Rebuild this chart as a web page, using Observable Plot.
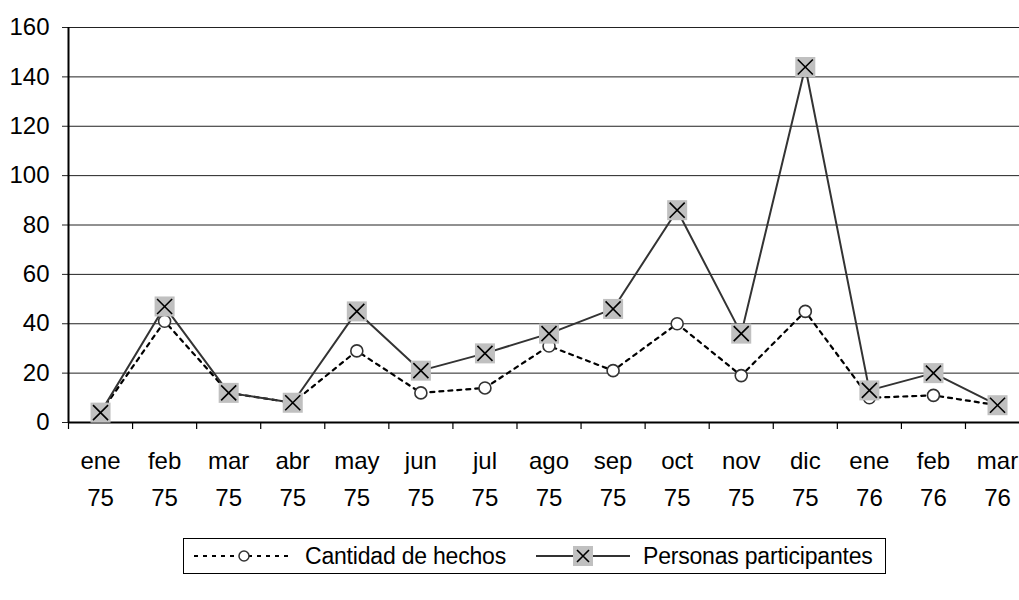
<!DOCTYPE html>
<html>
<head>
<meta charset="utf-8">
<script src="https://cdn.jsdelivr.net/npm/d3@7"></script>
<script src="https://cdn.jsdelivr.net/npm/@observablehq/plot@0.6"></script>
<style>
  html, body { margin: 0; padding: 0; background: white; overflow: hidden; }
  #wrap { position: relative; width: 1019px; height: 600px; font-family: "Liberation Sans", Arial, sans-serif; }
  #legend { position: absolute; left: 183px; top: 538px; width: 703px; height: 36px; box-sizing: border-box;
            border: 1px solid black; background: white; font-size: 23px; letter-spacing: -0.2px; color: black; }
  #legend .item { position: absolute; top: 0; height: 34px; line-height: 34px; white-space: nowrap; }
  #legend svg { position: absolute; top: 0; }
</style>
</head>
<body>
<div id="wrap">
  <div id="chart"></div>
  <div id="legend">
    <svg width="110" height="34" style="left:8px">
      <line x1="2" x2="100" y1="17" y2="17" stroke="black" stroke-width="2" stroke-dasharray="4,5"></line>
      <circle cx="52" cy="17" r="5" fill="white" stroke="#333" stroke-width="1.5"></circle>
    </svg>
    <span class="item" style="left:121px">Cantidad de hechos</span>
    <svg width="100" height="34" style="left:350px">
      <line x1="2" x2="96" y1="17" y2="17" stroke="#333" stroke-width="2"></line>
      <rect x="39" y="7" width="20" height="20" fill="#c0c0c0"></rect>
      <path d="M43,11L55,23M43,23L55,11" stroke="black" stroke-width="1.6"></path>
    </svg>
    <span class="item" style="left:459px">Personas participantes</span>
  </div>
</div>
<script>
const months = ["ene","feb","mar","abr","may","jun","jul","ago","sep","oct","nov","dic","ene","feb","mar"];
const years  = ["75","75","75","75","75","75","75","75","75","75","75","75","76","76","76"];
const cantidad = [4, 41, 12, 8, 29, 12, 14, 31, 21, 40, 19, 45, 10, 11, 7];
const personas = [4, 47, 12, 8, 45, 21, 28, 36, 46, 86, 36, 144, 13, 20, 7];
const yTicks = [0, 20, 40, 60, 80, 100, 120, 140, 160];

const rows = months.map((m, i) => ({i, month: m, year: years[i], cantidad: cantidad[i], personas: personas[i]}));
const n = months.length;
const boundaries = d3.range(n + 1).map(k => k - 0.5);

const chart = Plot.plot({
  width: 1019,
  height: 520,
  marginTop: 27,
  marginBottom: 98,
  marginLeft: 68,
  marginRight: 0,
  style: {fontFamily: "'Liberation Sans', Arial, sans-serif", fontSize: "24px", color: "black", background: "white", overflow: "hidden"},
  x: {type: "linear", domain: [-0.5, n - 0.5], range: [68, 68 + 64.07 * n]},
  y: {domain: [0, 160], range: [422, 27]},
  marks: [
    Plot.ruleY(yTicks.slice(1), {x1: -0.5, x2: n - 0.5, stroke: "#222", strokeWidth: 1}),
    Plot.axisY({ticks: yTicks, tickSize: 6, tickPadding: 13, label: null, fontSize: 24, stroke: "#222"}),
    Plot.axisX({ticks: boundaries, tickSize: 7, tickFormat: () => "", label: null, strokeWidth: 1.2}),
    Plot.axisX({ticks: d3.range(n), tickSize: 0, tickPadding: 20, label: null, fontSize: 24, lineHeight: 1.54,
                tickFormat: i => months[i] + "\n" + years[i]}),
    Plot.ruleY([0], {x1: -0.5, x2: n - 0.5, stroke: "black", strokeWidth: 2}),
    Plot.ruleX([-0.5], {y1: 0, y2: 160, stroke: "black", strokeWidth: 2}),
    Plot.line(rows, {x: "i", y: "cantidad", stroke: "black", strokeWidth: 2.2, strokeDasharray: "4,5"}),
    Plot.dot(rows, {x: "i", y: "cantidad", r: 6, fill: "white", stroke: "#333", strokeWidth: 1.6}),
    Plot.line(rows, {x: "i", y: "personas", stroke: "#333", strokeWidth: 2}),
    Plot.dot(rows, {x: "i", y: "personas", symbol: "square", r: 11.3, fill: "#c0c0c0", stroke: "none"}),
    Plot.dot(rows, {x: "i", y: "personas", symbol: "times", r: 6.9, stroke: "black", strokeWidth: 1.6})
  ]
});
document.getElementById("chart").appendChild(chart);
</script>
</body>
</html>
